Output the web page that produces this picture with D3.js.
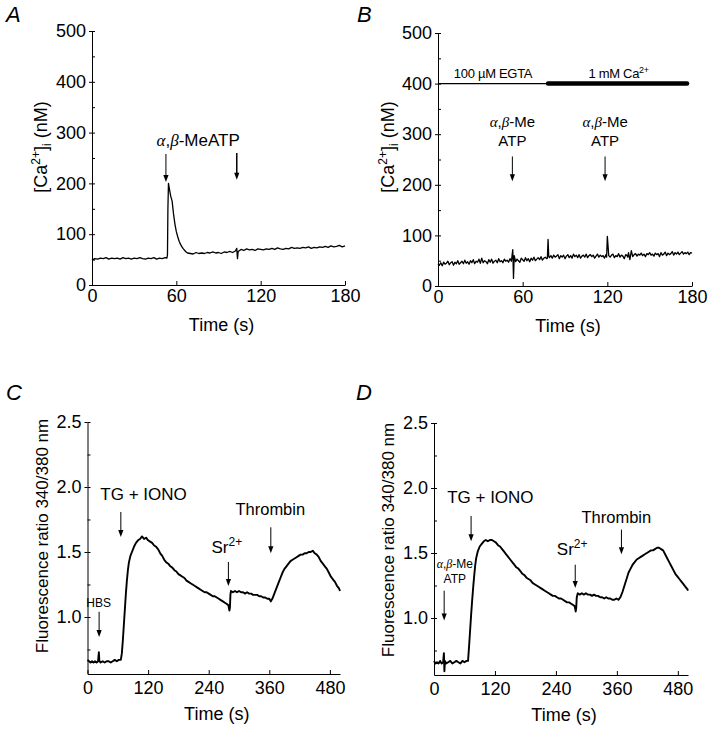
<!DOCTYPE html>
<html><head><meta charset="utf-8">
<script src="https://cdn.jsdelivr.net/npm/d3@7"></script>
<style>
body{margin:0;background:#fff}
svg{display:block;font-family:"Liberation Sans",Arial,sans-serif}
</style></head><body>
<svg id="c" width="711" height="734"></svg>
<script>
// ---------- data ----------
const caTicks = [0, 100, 200, 300, 400, 500];
const caMinor = [50, 150, 250, 350, 450];
const shortTimeTicks = [0, 60, 120, 180];
const ratioTicks = [1.0, 1.5, 2.0, 2.5];
const ratioMinor = [0.75, 1.25, 1.75, 2.25];
const longTimeTicks = [0, 120, 240, 360, 480];

// Panel A trace
const aTime = [0,2,4,6,8,10,12,14,16,18,20,22,24,26,28,30,32,34,36,38,40,42,44,46,48,50,52,53.3,53.7,54,54.4,55,56,57,58,59,60,61,62,63,64,65,66,67,68,70,72,74,76,78,80,82,84,86,88,90,92,94,96,98,100,102,103,103.5,104,106,108,110,112,114,116,118,120,122,124,126,128,130,132,134,136,138,140,142,144,146,148,150,152,154,156,158,160,162,164,166,168,170,172,174,176,178,180];
const aCa   = [49,52,51,53,52,54,51,53,52,53,51,54,52,53,51,53,52,54,52,51,53,52,54,51,53,52,54,53,60,150,200,190,175,165,140,120,105,95,86,80,75,71,68,65,63,62,61,64,62,63,62,64,63,65,63,64,62,65,64,66,64,67,72,52,66,70,68,71,69,70,68,71,70,69,71,70,72,70,73,71,70,72,71,74,72,73,72,74,73,75,72,74,73,75,74,76,74,77,75,76,78,75,77];

// Panel B trace
const bTime = [0,1,2,3,4,5,6,7,8,9,10,11,12,13,14,15,16,17,18,19,20,21,22,23,24,25,26,27,28,29,30,31,32,33,34,35,36,37,38,39,40,41,42,43,44,45,46,47,48,49,50,51,52,53,53.5,54,55,56,57,58,59,60,61,62,63,64,65,66,67,68,69,70,71,72,73,74,75,76,77,77.5,78,78.5,79,80,81,82,83,84,85,86,87,88,89,90,91,92,93,94,95,96,97,98,99,100,101,102,103,104,105,106,107,108,109,110,111,112,113,114,115,116,117,118,119,119.5,120,121,122,123,124,125,126,127,128,129,130,131,132,133,134,134.5,135,136,137,138,139,140,141,142,143,144,145,146,147,148,149,150,151,152,153,154,155,156,157,158,159,160,161,162,163,164,165,166,167,168,169,170,171,172,173,174,175,176,177,178,179,180];
const bCa   = [44,41,46,40,47,43,45,49,42,46,48,41,47,44,50,43,46,49,44,51,45,48,43,50,46,52,44,49,47,53,45,55,46,50,48,44,52,47,53,45,49,51,46,54,48,50,46,53,49,51,47,54,49,72,15,60,48,53,50,47,55,52,49,56,50,54,48,55,51,57,50,53,56,52,58,51,55,57,54,55,92,58,56,60,55,61,57,59,62,54,60,57,61,54,59,62,56,60,55,63,58,61,56,62,55,59,61,57,63,56,60,62,58,61,55,59,63,57,61,58,60,55,62,57,98,60,57,61,63,56,60,58,64,57,61,59,54,62,60,57,66,52,70,58,62,64,59,63,61,65,60,63,58,64,62,66,61,63,59,65,62,64,58,66,61,63,67,60,65,62,64,68,61,66,63,67,62,65,68,63,66,64,67,62,66,65];
// Panel B bars (solution changes)
const bBarEgta = [0, 78];
const bBarCa = [78, 176.5];

// Panel C trace
const cTime = [0,3,6,9,12,15,18,21,22.5,23.5,26,30,34,38,42,46,50,54,58,62,66,68,70,72,74,76,78,80,82,85,88,92,96,100,104,108,112,116,120,124,128,132,136,140,144,148,152,156,160,164,168,172,176,180,184,188,192,196,200,204,208,212,216,220,224,228,232,236,240,244,248,252,256,260,264,268,272,276,279,281,282,283,284,288,292,296,300,304,308,312,316,320,324,328,332,336,340,344,348,352,356,360,363,366,370,374,378,382,386,390,394,398,402,406,410,414,418,422,426,430,434,438,442,446,450,454,458,462,466,470,474,478,482,486,490,494,498,500];
const cRatio = [0.67,0.66,0.65,0.66,0.65,0.66,0.65,0.66,0.73,0.66,0.65,0.66,0.65,0.66,0.66,0.65,0.66,0.67,0.66,0.67,0.67,0.72,0.82,0.94,1.06,1.18,1.28,1.36,1.42,1.47,1.50,1.54,1.57,1.59,1.60,1.62,1.60,1.61,1.59,1.58,1.57,1.55,1.54,1.52,1.49,1.47,1.44,1.42,1.41,1.39,1.38,1.36,1.35,1.33,1.32,1.31,1.30,1.28,1.27,1.26,1.25,1.24,1.23,1.22,1.21,1.20,1.19,1.19,1.18,1.17,1.16,1.16,1.15,1.14,1.13,1.12,1.11,1.10,1.09,1.05,1.07,1.17,1.20,1.19,1.20,1.19,1.20,1.19,1.19,1.18,1.19,1.18,1.18,1.17,1.17,1.17,1.16,1.16,1.15,1.15,1.14,1.14,1.12,1.14,1.18,1.22,1.26,1.30,1.34,1.37,1.39,1.41,1.43,1.44,1.45,1.46,1.47,1.48,1.48,1.49,1.49,1.50,1.50,1.51,1.49,1.48,1.46,1.43,1.41,1.39,1.37,1.34,1.31,1.29,1.27,1.24,1.22,1.20];

// Panel D trace
const dTime = [0,3,6,9,12,15,18,19.5,20.5,21.5,24,28,32,36,40,44,48,52,56,60,64,67,69,71,73,75,77,79,81,83,86,90,94,98,102,106,110,114,118,122,126,130,134,138,142,146,150,154,158,162,166,170,174,178,182,186,190,194,198,202,206,210,214,218,222,226,230,234,238,242,246,250,254,258,262,266,270,274,277,279,280,281,283,287,291,295,299,303,307,311,315,319,323,327,331,335,339,343,347,351,355,359,363,367,371,375,379,383,387,391,395,399,403,407,411,415,419,423,427,431,435,439,443,447,451,455,459,463,467,471,475,479,483,487,491,495,499,500];
const dRatio = [0.67,0.65,0.66,0.65,0.67,0.65,0.66,0.73,0.59,0.67,0.65,0.66,0.67,0.65,0.66,0.67,0.66,0.65,0.67,0.66,0.67,0.67,0.78,0.90,1.02,1.13,1.23,1.32,1.40,1.46,1.51,1.55,1.57,1.59,1.60,1.59,1.60,1.60,1.59,1.58,1.56,1.55,1.53,1.51,1.49,1.47,1.45,1.43,1.41,1.39,1.38,1.36,1.34,1.33,1.31,1.30,1.29,1.27,1.26,1.25,1.24,1.23,1.22,1.21,1.20,1.19,1.18,1.17,1.17,1.16,1.15,1.15,1.14,1.13,1.12,1.12,1.11,1.10,1.09,1.05,1.08,1.16,1.19,1.18,1.19,1.18,1.19,1.18,1.18,1.17,1.18,1.17,1.17,1.16,1.16,1.15,1.16,1.15,1.15,1.14,1.14,1.15,1.14,1.16,1.20,1.25,1.30,1.35,1.38,1.41,1.43,1.45,1.46,1.47,1.48,1.49,1.50,1.51,1.52,1.52,1.53,1.54,1.54,1.53,1.52,1.49,1.46,1.43,1.40,1.37,1.34,1.32,1.30,1.28,1.26,1.24,1.22,1.21];

// ---------- drawing ----------
const svg = d3.select('#c');
const FS = 18;

function arrow(g, x, yTop, yTip, w) {
  g.append('line').attr('x1', x).attr('x2', x).attr('y1', yTop).attr('y2', yTip - 5)
    .attr('stroke', '#000').attr('stroke-width', w || 1);
  g.append('path').attr('d', `M${x - 2.6},${yTip - 7}L${x + 2.6},${yTip - 7}L${x},${yTip}Z`).attr('fill', '#000');
}

function greekText(sel, parts) {
  parts.forEach(([t, greek]) => {
    const ts = sel.append('tspan').text(t);
    if (greek) ts.attr('font-family', '"Liberation Serif","DejaVu Serif",serif').attr('font-style', 'italic');
  });
}

function panel(o) {
  const g = svg.append('g');
  const x = d3.scaleLinear().domain(o.xDomain).range(o.xRange);
  const y = d3.scaleLinear().domain(o.yDomain).range(o.yRange);
  const x0 = o.xRange[0], yb = o.yRange[0];

  g.append('path')
    .datum(o.time.map((t, i) => [t, o.vals[i]]))
    .attr('fill', 'none').attr('stroke', '#000').attr('stroke-width', o.lw)
    .attr('stroke-linejoin', 'round')
    .attr('d', d3.line().x(d => x(d[0])).y(d => y(d[1])));

  const ya = g.append('g').attr('transform', `translate(${x0},0)`)
    .call(d3.axisLeft(y).tickValues(o.yTicks).tickSize(3).tickSizeOuter(0).tickPadding(3).tickFormat(o.yFmt));
  ya.selectAll('text').attr('font-size', FS).attr('font-family', '"Liberation Sans",Arial,sans-serif').attr('fill', '#000');
  ya.select('.domain').attr('stroke', '#000');
  const yin = g.append('g').attr('transform', `translate(${x0},0)`)
    .call(d3.axisRight(y).tickValues(o.yTicks.concat(o.yMinor)).tickSize(3).tickFormat(''));
  yin.select('.domain').remove();

  const xa = g.append('g').attr('transform', `translate(0,${yb})`)
    .call(d3.axisBottom(x).tickValues(o.xTicks).tickSizeInner(-4).tickSizeOuter(0).tickPadding(o.xPad));
  xa.selectAll('text').attr('font-size', FS).attr('font-family', '"Liberation Sans",Arial,sans-serif').attr('fill', '#000');
  xa.select('.domain').attr('stroke', '#000');

  g.append('text').attr('x', (o.xRange[0] + o.xRange[1]) / 2 + 3).attr('y', yb + 46)
    .attr('text-anchor', 'middle').attr('font-size', FS).text('Time (s)');

  g.append('text').attr('x', o.letterPos[0]).attr('y', o.letterPos[1])
    .attr('font-size', 22).attr('font-style', 'italic').text(o.letter);

  return {g, x, y};
}

function caTitle(g, cx, cy) {
  const t = g.append('text').attr('transform', `translate(${cx},${cy}) rotate(-90)`).attr('text-anchor', 'middle').attr('font-size', FS);
  t.append('tspan').text('[Ca');
  t.append('tspan').attr('dy', -7).attr('font-size', 12).text('2+');
  t.append('tspan').attr('dy', 7).text(']');
  t.append('tspan').attr('dy', 4).attr('font-size', 12).text('i');
  t.append('tspan').attr('dy', -4).text(' (nM)');
}

// ---- Panel A ----
{
  const {g, x, y} = panel({xDomain: [0, 180], xRange: [92, 345], yDomain: [0, 500], yRange: [285, 31],
    time: aTime, vals: aCa, lw: 1.3, yTicks: caTicks, yMinor: caMinor, xTicks: shortTimeTicks, xPad: 4,
    yFmt: d3.format('d'), letter: 'A', letterPos: [6, 22]});
  caTitle(g, 47, 147);
  const lab = g.append('text').attr('x', x(75.5)).attr('y', y(274)).attr('text-anchor', 'middle').attr('font-size', 17);
  greekText(lab, [['α', 1], [',', 0], ['β', 1], ['-MeATP', 0]]);
  arrow(g, x(52.6), y(258), y(203), 1);
  arrow(g, x(103), y(260), y(207), 1.5);
}

// ---- Panel B ----
{
  const {g, x, y} = panel({xDomain: [0, 180], xRange: [438, 692], yDomain: [0, 500], yRange: [286, 33],
    time: bTime, vals: bCa, lw: 1.3, yTicks: caTicks, yMinor: caMinor, xTicks: shortTimeTicks, xPad: 4,
    yFmt: d3.format('d'), letter: 'B', letterPos: [357, 22]});
  caTitle(g, 394, 147);
  g.append('line').attr('x1', x(bBarEgta[0])).attr('x2', x(bBarEgta[1])).attr('y1', y(400)).attr('y2', y(400))
    .attr('stroke', '#000').attr('stroke-width', 1.2);
  g.append('line').attr('x1', x(bBarCa[0])).attr('x2', x(bBarCa[1])).attr('y1', y(400)).attr('y2', y(400))
    .attr('stroke', '#000').attr('stroke-width', 4.5).attr('stroke-linecap', 'round');
  g.append('text').attr('x', x(39)).attr('y', y(412)).attr('text-anchor', 'middle').attr('font-size', 13)
    .attr('letter-spacing', -0.3).text('100 µM EGTA');
  const ca = g.append('text').attr('x', x(128)).attr('y', y(412)).attr('text-anchor', 'middle').attr('font-size', 13).attr('letter-spacing', -0.3);
  ca.append('tspan').text('1 mM Ca');
  ca.append('tspan').attr('dy', -5).attr('font-size', 9).text('2+');
  [52.7, 118.4].forEach(tt => {
    const l1 = g.append('text').attr('x', x(tt)).attr('y', y(315)).attr('text-anchor', 'middle').attr('font-size', 15);
    greekText(l1, [['α', 1], [',', 0], ['β', 1], ['-Me', 0]]);
    g.append('text').attr('x', x(tt)).attr('y', y(276)).attr('text-anchor', 'middle').attr('font-size', 15).text('ATP');
    arrow(g, x(tt), y(256), y(207), 1);
  });
}

function ratioTitle(g, cx, cy) {
  g.append('text').attr('transform', `translate(${cx},${cy}) rotate(-90)`).attr('text-anchor', 'middle')
    .attr('font-size', 17).text('Fluorescence ratio 340/380 nm');
}
function srLabel(g, xx, yy) {
  const s = g.append('text').attr('x', xx).attr('y', yy).attr('text-anchor', 'middle').attr('font-size', 17);
  s.append('tspan').text('Sr');
  s.append('tspan').attr('dy', -7).attr('font-size', 12).text('2+');
}

// ---- Panel C ----
{
  const {g, x, y} = panel({xDomain: [0, 500], xRange: [87.5, 340], yDomain: [0.5615, 2.5], yRange: [674, 422],
    time: cTime, vals: cRatio, lw: 1.9, yTicks: ratioTicks, yMinor: ratioMinor, xTicks: longTimeTicks, xPad: 7,
    yFmt: d3.format('.1f'), letter: 'C', letterPos: [6, 400]});
  ratioTitle(g, 48, 536);
  g.append('text').attr('x', x(22)).attr('y', y(1.077)).attr('text-anchor', 'middle').attr('font-size', 12).text('HBS');
  arrow(g, x(23), y(1.04), y(0.846), 1);
  g.append('text').attr('x', x(111)).attr('y', y(1.9)).attr('text-anchor', 'middle').attr('font-size', 17).text('TG + IONO');
  arrow(g, x(66), y(1.808), y(1.615), 1);
  srLabel(g, x(276), y(1.49));
  arrow(g, x(279), y(1.423), y(1.238), 1);
  g.append('text').attr('x', x(362)).attr('y', y(1.785)).attr('text-anchor', 'middle').attr('font-size', 16.5).text('Thrombin');
  arrow(g, x(363), y(1.69), y(1.49), 1);
}

// ---- Panel D ----
{
  const {g, x, y} = panel({xDomain: [0, 500], xRange: [434, 688], yDomain: [0.5615, 2.5], yRange: [675, 423],
    time: dTime, vals: dRatio, lw: 1.9, yTicks: ratioTicks, yMinor: ratioMinor, xTicks: longTimeTicks, xPad: 7,
    yFmt: d3.format('.1f'), letter: 'D', letterPos: [356, 400]});
  ratioTitle(g, 394, 540);
  const l1 = g.append('text').attr('x', x(41)).attr('y', y(1.385)).attr('text-anchor', 'middle').attr('font-size', 12);
  greekText(l1, [['α', 1], [',', 0], ['β', 1], ['-Me', 0]]);
  g.append('text').attr('x', x(41)).attr('y', y(1.27)).attr('text-anchor', 'middle').attr('font-size', 12).text('ATP');
  arrow(g, x(20), y(1.21), y(0.98), 1);
  g.append('text').attr('x', x(111)).attr('y', y(1.887)).attr('text-anchor', 'middle').attr('font-size', 17).text('TG + IONO');
  arrow(g, x(73), y(1.785), y(1.59), 1);
  srLabel(g, x(272), y(1.485));
  arrow(g, x(278), y(1.41), y(1.23), 1);
  g.append('text').attr('x', x(359)).attr('y', y(1.73)).attr('text-anchor', 'middle').attr('font-size', 16.5).text('Thrombin');
  arrow(g, x(369), y(1.68), y(1.49), 1);
}
</script>
</body></html>
